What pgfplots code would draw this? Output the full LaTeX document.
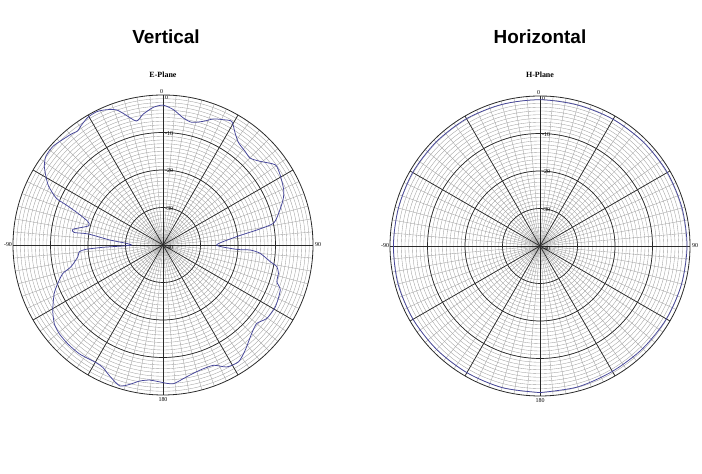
\documentclass[border=0pt]{standalone}
\usepackage{pgfplots}
\pgfplotsset{compat=1.18}
\usepackage{pgfplotstable}
\usepackage{fontspec}
\setmainfont{Liberation Serif}
\newfontfamily\arialfont{Liberation Sans}
\definecolor{curve}{HTML}{45459A}
\definecolor{thingrid}{HTML}{A0A0A0}
\definecolor{thickgrid}{HTML}{2A2A2A}

\pgfplotstableread{
ang db
-180 -3.3
-174.5 -3.8
-170.3 -3.2
-166.6 -1.8
-162.9 -0.7
-157.8 -2.3
-153.9 -3.6
-150.4 -3.9
-142.5 -3.4
-136.1 -3.4
-130.6 -3.6
-126.0 -4.2
-120.7 -5.8
-114.1 -8.2
-110.1 -10.1
-105.9 -12.2
-103.3 -14.8
-97.8 -17.1
-94.6 -17.6
-93.2 -19.5
-92.2 -24.0
-91.4 -29.4
-90.0 -31.6
-87.4 -30.2
-84.6 -25.7
-81.6 -19.8
-82.0 -16.1
-80.1 -15.6
-75.6 -19.5
-72.6 -19.0
-69.5 -15.7
-67.5 -12.0
-66.3 -8.9
-62.8 -5.7
-59.6 -3.8
-56.4 -2.0
-52.8 -0.8
-48.0 -0.6
-43.5 -1.2
-39.7 -1.6
-36.8 -2.0
-34.5 -1.4
-30.5 -0.5
-26.4 -0.3
-22.7 -0.9
-19.0 -1.9
-16.3 -3.7
-12.1 -6.2
-8.6 -4.7
-4.0 -3.2
0.0 -2.7
4.4 -3.8
9.1 -5.7
13.2 -6.4
18.1 -5.3
21.8 -3.8
25.8 -2.9
29.1 -2.3
32.8 -4.5
36.5 -6.1
41.3 -6.8
45.1 -7.2
49.3 -5.8
54.5 -3.2
59.1 -3.6
65.4 -4.6
69.4 -5.8
74.6 -8.0
78.9 -10.0
80.9 -14.6
83.5 -20.2
90.0 -25.7
93.4 -20.3
93.3 -16.7
94.9 -14.0
98.9 -11.0
100.8 -9.1
103.8 -8.3
107.9 -8.1
111.0 -6.5
118.8 -5.8
125.3 -6.1
129.9 -7.4
134.9 -6.6
142.0 -4.4
147.1 -2.9
152.4 -3.3
157.2 -5.2
163.5 -5.2
169.8 -4.3
175.7 -2.9
180 -3.3
}\eplane

\pgfplotstableread{
ang db
-180 -0.9
-165 -0.9
-150 -1.0
-135 -1.0
-120 -0.9
-105 -0.8
-90 -0.9
-75 -0.9
-60 -0.8
-45 -0.8
-30 -0.8
-15 -0.9
0 -1.0
15 -1.1
30 -1.0
45 -0.9
60 -0.8
75 -0.8
90 -0.8
105 -0.9
120 -1.1
135 -1.3
150 -1.4
165 -1.1
180 -0.9
}\hplane

\newcommand{\polargrid}[2]{%
\begin{scope}[shift={(#1,#2)}]
  \foreach \r in {1,...,39} \draw[thingrid, line width=0.35bp] (0,0) circle[radius=\r*3.75];
  \foreach \a in {0,5,...,355} \draw[thingrid, line width=0.35bp] (0,0) -- (\a:150);
  \foreach \r in {10,20,30} \draw[thickgrid, line width=0.7bp] (0,0) circle[radius=\r*3.75];
  \draw[thickgrid, line width=0.8bp] (0,0) circle[radius=150];
  \foreach \a in {0,30,...,330} \draw[thickgrid, line width=0.7bp] (0,0) -- (\a:150);
  \begin{scope}[font=\fontsize{6}{6}\selectfont, inner sep=0.5bp]
    \node[anchor=south] at (-1.5,151) {0};
    \node[anchor=west] at (1.5,147) {0};
    \node[anchor=west] at (1.5,111.5) {-10};
    \node[anchor=west] at (1.5,74) {-20};
    \node[anchor=west] at (1.5,36.5) {-30};
    \node[anchor=west] at (1.5,-3) {-40};
    \node at (155,0) {90};
    \node at (-155,0) {-90};
    \node at (0,-155) {180};
  \end{scope}
\end{scope}}

\begin{document}
\begin{tikzpicture}[x=1bp,y=1bp]
\path[use as bounding box, fill=white] (0,0) rectangle (702,474);

\node[font=\arialfont\bfseries\fontsize{19}{19}\selectfont] at (166,437) {Vertical};
\node[font=\arialfont\bfseries\fontsize{19}{19}\selectfont] at (540,437) {Horizontal};
\node[font=\bfseries\fontsize{8}{8}\selectfont] at (163,399) {E-Plane};
\node[font=\bfseries\fontsize{8}{8}\selectfont] at (540,399) {H-Plane};

\polargrid{163}{229}
\polargrid{540}{228}

\begin{axis}[at={(163bp,229bp)}, anchor=center, scale only axis,
  width=300bp, height=300bp, xmin=-40, xmax=40, ymin=-40, ymax=40,
  hide axis, clip=false]
  \addplot[curve, line width=0.75bp, no markers, smooth, tension=0.4] table[
    x expr={(\thisrow{db}+40)*sin(\thisrow{ang})},
    y expr={(\thisrow{db}+40)*cos(\thisrow{ang})}] {\eplane};
\end{axis}

\begin{axis}[at={(540bp,228bp)}, anchor=center, scale only axis,
  width=300bp, height=300bp, xmin=-40, xmax=40, ymin=-40, ymax=40,
  hide axis, clip=false]
  \addplot[curve, line width=0.75bp, no markers, smooth] table[
    x expr={(\thisrow{db}+40)*sin(\thisrow{ang})},
    y expr={(\thisrow{db}+40)*cos(\thisrow{ang})}] {\hplane};
\end{axis}
\end{tikzpicture}
\end{document}
